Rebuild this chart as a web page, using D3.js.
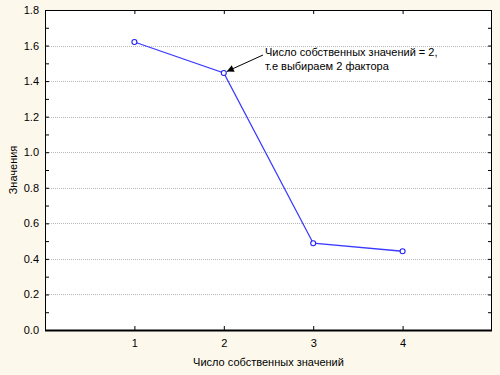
<!DOCTYPE html>
<html><head><meta charset="utf-8">
<script src="https://cdn.jsdelivr.net/npm/d3@7"></script>
<style>
html,body{margin:0;padding:0;background:#fdf8ec}
svg{display:block;font-family:Arial,"Liberation Sans",sans-serif}
</style></head>
<body><div id="chart"></div>
<script>
const factors=[1,2,3,4];
const eigenvalues=[1.62,1.446,0.488,0.443];
const yTicks=[0,0.2,0.4,0.6,0.8,1.0,1.2,1.4,1.6,1.8];
const xTicks=[1,2,3,4];
const xTitle='Число собственных значений';
const yTitle='Значения';
const noteLines=['Число собственных значений = 2,','т.е выбираем 2 фактора'];

const W=500,H=375,m={t:10,r:8,b:45,l:45};
const svg=d3.select('#chart').append('svg').attr('width',W).attr('height',H);
const x=d3.scaleLinear().domain([0,5]).range([m.l,W-m.r]);
const y=d3.scaleLinear().domain([0,1.8]).range([H-m.b,m.t]);

svg.append('rect').attr('x',m.l).attr('y',m.t).attr('width',W-m.r-m.l).attr('height',H-m.b-m.t).attr('fill','#fff');

// dotted grid
svg.append('g').selectAll('line').data(yTicks.filter(d=>d>0&&d<1.8)).join('line')
  .attr('x1',m.l).attr('x2',W-m.r).attr('y1',d=>Math.round(y(d))+0.5).attr('y2',d=>Math.round(y(d))+0.5)
  .attr('stroke','#b8b8b8').attr('stroke-dasharray','1,1');

// axes with inward ticks
const minor=d3.range(0,1.81,0.1);
const tickLen=4;
const axL=svg.append('g').attr('transform',`translate(${m.l},0)`)
  .call(d3.axisLeft(y).tickValues(yTicks).tickFormat(d3.format('.1f')).tickSize(0).tickPadding(6));
axL.select('.domain').remove();
axL.selectAll('text').attr('font-size',11).attr('fill','#000').attr('font-family','Arial,"Liberation Sans",sans-serif');
const axR=svg.append('g').attr('transform',`translate(${W-m.r},0)`)
  .call(d3.axisRight(y).tickValues(minor).tickFormat('').tickSize(-tickLen));
axR.select('.domain').remove();
const axL2=svg.append('g').attr('transform',`translate(${m.l},0)`)
  .call(d3.axisLeft(y).tickValues(minor).tickFormat('').tickSize(-tickLen));
axL2.select('.domain').remove();
const axB=svg.append('g').attr('transform',`translate(0,${H-m.b})`)
  .call(d3.axisBottom(x).tickValues(xTicks).tickFormat(d3.format('d')).tickSize(-tickLen).tickPadding(9));
axB.select('.domain').remove();
axB.selectAll('text').attr('font-size',11).attr('fill','#000').attr('font-family','Arial,"Liberation Sans",sans-serif');
const axT=svg.append('g').attr('transform',`translate(0,${m.t})`)
  .call(d3.axisTop(x).tickValues(xTicks).tickFormat('').tickSize(-tickLen));
axT.select('.domain').remove();
svg.selectAll('.tick line').attr('stroke','#000');

svg.append('rect').attr('x',m.l+0.5).attr('y',m.t+0.5).attr('width',W-m.r-m.l-1).attr('height',H-m.b-m.t)
  .attr('fill','none').attr('stroke','#000').attr('stroke-width',1);
svg.append('line').attr('x1',m.l).attr('x2',W-m.r).attr('y1',H-m.b+0.5).attr('y2',H-m.b+0.5).attr('stroke','#000').attr('stroke-width',2);

// series
const pts=factors.map((f,i)=>({f,v:eigenvalues[i]}));
svg.append('path').datum(pts).attr('fill','none').attr('stroke','#3b3bff').attr('stroke-width',1.3)
  .attr('d',d3.line().x(d=>x(d.f)).y(d=>y(d.v)));
svg.append('g').selectAll('circle').data(pts).join('circle')
  .attr('cx',d=>x(d.f)).attr('cy',d=>y(d.v)).attr('r',2.5)
  .attr('fill','#fff').attr('stroke','#2020ff').attr('stroke-width',1.1);

// annotation
svg.append('defs').append('marker').attr('id','arr').attr('viewBox','0 0 10 10').attr('refX',10).attr('refY',5)
  .attr('markerWidth',9).attr('markerHeight',7).attr('orient','auto').attr('markerUnits','userSpaceOnUse')
  .append('path').attr('d','M0,0L10,5L0,10z').attr('fill','#000');
const p2=pts[1];
svg.append('line').attr('x1',263).attr('y1',55).attr('x2',x(p2.f)+3).attr('y2',y(p2.v)-1.5)
  .attr('stroke','#000').attr('stroke-width',1).attr('marker-end','url(#arr)');
svg.append('text').attr('x',265).attr('y',56).attr('font-size',11).attr('fill','#000')
  .selectAll('tspan').data(noteLines).join('tspan').attr('x',265).attr('dy',(d,i)=>i?14:0).text(d=>d);

// titles
svg.append('text').attr('x',(m.l+W-m.r)/2).attr('y',366).attr('text-anchor','middle').attr('font-size',11).text(xTitle);
svg.append('text').attr('transform',`translate(17,${(m.t+H-m.b)/2}) rotate(-90)`).attr('text-anchor','middle').attr('font-size',11).text(yTitle);
</script></body></html>
